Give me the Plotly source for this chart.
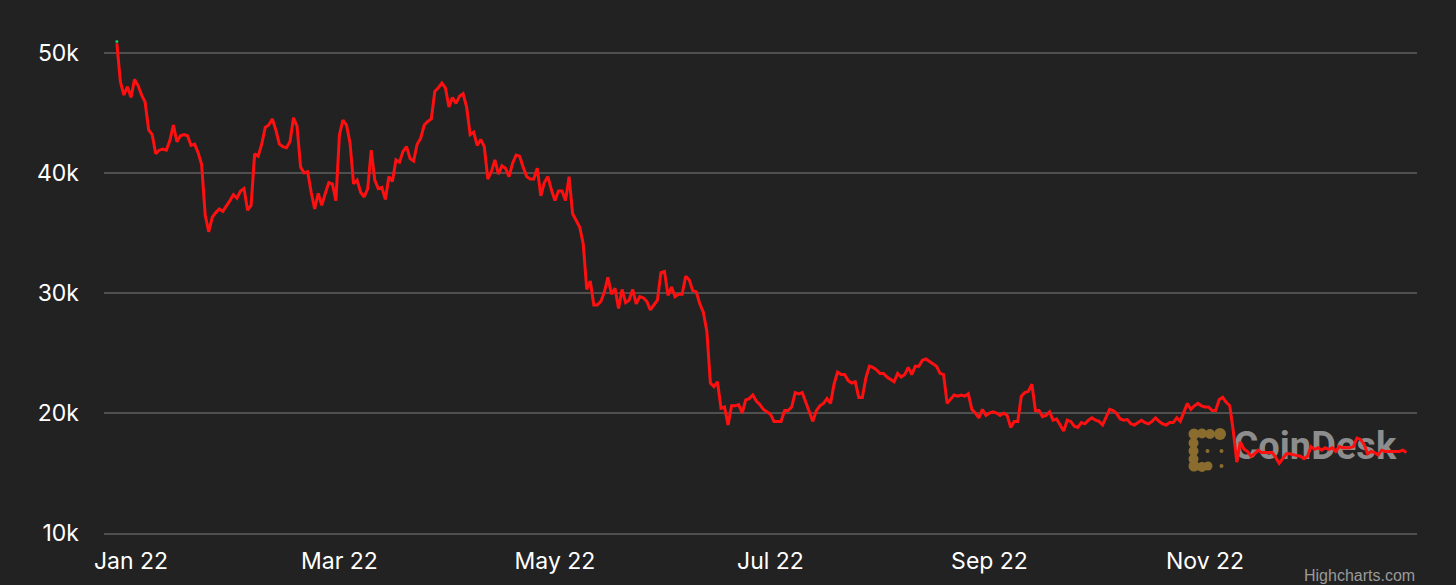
import pandas as pd
import plotly.graph_objects as go

# ---- data: BTC/USD daily price (thousands of USD) ----
start_date = "2021-12-28"
dec_2021 = [50.8, 47.6, 46.5, 47.2]
jan_2022 = [46.3, 47.8, 47.3, 46.5, 45.9, 43.6, 43.2, 41.6, 41.9, 42.0,
            41.9, 42.7, 44.0, 42.6, 43.1, 43.2, 43.1, 42.3, 42.4, 41.7,
            40.7, 36.5, 35.1, 36.3, 36.7, 37.0, 36.8, 37.2, 37.7, 38.2, 37.9]
feb_2022 = [38.5, 38.7, 36.9, 37.3, 41.6, 41.4, 42.4, 43.8, 44.0, 44.5,
            43.6, 42.4, 42.2, 42.1, 42.6, 44.6, 43.9, 40.5, 40.0, 40.1,
            38.4, 37.0, 38.3, 37.3, 38.3, 39.2, 39.1, 37.7]
mar_2022 = [43.2, 44.4, 44.0, 42.5, 39.1, 39.4, 38.4, 38.0, 38.7, 41.9,
            39.4, 38.7, 38.8, 37.8, 39.7, 39.3, 41.1, 40.9, 41.8, 42.2,
            41.2, 41.0, 42.4, 42.9, 44.0, 44.3, 44.5, 46.8, 47.1, 47.5, 47.1]
apr_2022 = [45.5, 46.3, 45.8, 46.4, 46.6, 45.5, 43.2, 43.4, 42.3, 42.8,
            42.2, 39.5, 40.1, 41.1, 39.9, 40.6, 40.4, 39.7, 40.8, 41.5,
            41.4, 40.5, 39.7, 39.5, 39.5, 40.4, 38.1, 39.2, 39.7, 38.6]
may_2022 = [37.7, 38.5, 38.5, 37.7, 39.7, 36.6, 36.0, 35.5, 34.1, 30.3,
            31.0, 29.0, 29.0, 29.3, 30.1, 31.3, 29.9, 30.4, 28.7, 30.3,
            29.2, 29.4, 30.3, 29.1, 29.7, 29.6, 29.3, 28.6, 29.0, 29.4, 31.7]
jun_2022 = [31.8, 29.8, 30.5, 29.7, 29.9, 29.9, 31.4, 31.1, 30.2, 30.1,
            29.1, 28.4, 26.8, 22.5, 22.2, 22.6, 20.4, 20.5, 19.0, 20.6,
            20.6, 20.7, 20.0, 21.1, 21.2, 21.5, 21.0, 20.7, 20.3, 20.1]
jul_2022 = [19.9, 19.3, 19.3, 19.3, 20.2, 20.2, 20.5, 21.7, 21.6, 21.7,
            20.9, 20.0, 19.3, 20.2, 20.6, 20.8, 21.2, 20.8, 22.4, 23.4,
            23.2, 23.2, 22.7, 22.5, 22.6, 21.3, 21.3, 22.9, 23.9, 23.8, 23.6]
aug_2022 = [23.3, 23.3, 23.0, 22.8, 22.6, 23.3, 23.0, 23.2, 23.8, 23.2,
            23.9, 23.9, 24.4, 24.5, 24.3, 24.1, 23.9, 23.3, 23.2, 20.8,
            21.2, 21.5, 21.4, 21.5, 21.4, 21.6, 20.3, 20.0, 19.6, 20.3, 19.8]
sep_2022 = [20.0, 20.1, 20.0, 19.8, 20.0, 19.8, 18.8, 19.3, 19.3, 21.4,
            21.7, 21.8, 22.4, 20.2, 20.2, 19.7, 19.8, 20.1, 19.4, 19.5,
            19.0, 18.5, 19.4, 19.3, 18.9, 18.8, 19.2, 19.1, 19.4, 19.6]
oct_2022 = [19.4, 19.3, 19.0, 19.6, 20.3, 20.2, 19.95, 19.5, 19.4, 19.45,
            19.1, 19.0, 19.2, 19.4, 19.2, 19.1, 19.3, 19.6, 19.3, 19.1,
            19.0, 19.2, 19.2, 19.6, 19.3, 20.1, 20.8, 20.3, 20.6, 20.8, 20.6]
nov_2022 = [20.5, 20.5, 20.2, 20.2, 21.1, 21.3, 20.9, 20.6, 18.5, 15.9,
            17.6, 17.0, 16.8, 16.4, 16.6, 16.9, 16.7, 16.7, 16.7, 16.7,
            16.3, 15.8, 16.2, 16.6, 16.6, 16.5, 16.45, 16.4, 16.2, 16.4]
dec_2022 = [17.2, 16.97, 17.1, 16.9, 17.1, 16.97, 17.1, 16.8, 17.2, 17.1,
            17.1, 17.1, 17.2, 17.9, 17.8, 17.4, 16.6, 16.8, 16.7, 16.5,
            16.9, 16.8, 16.8, 16.8, 16.8, 16.8, 16.9, 16.7]

y_ticks = [10000, 20000, 30000, 40000, 50000]
y_tick_labels = ["10k", "20k", "30k", "40k", "50k"]
x_ticks = ["2022-01-01", "2022-03-01", "2022-05-01", "2022-07-01", "2022-09-01", "2022-11-01"]
x_tick_labels = ["Jan 22", "Mar 22", "May 22", "Jul 22", "Sep 22", "Nov 22"]

months = [dec_2021, jan_2022, feb_2022, mar_2022, apr_2022, may_2022, jun_2022,
          jul_2022, aug_2022, sep_2022, oct_2022, nov_2022, dec_2022]
price_k = [v for m in months for v in m]
price = [v * 1000 for v in price_k]
dates = pd.date_range(start_date, periods=len(price), freq="D")

# ---- styling ----
BG = "#222222"
GRID = "#4f4f4f"
FONT = "Inter, 'DejaVu Sans', sans-serif"

# plot area in pixels
W, H = 1456, 585
L, R, T, B = 104, 39, 35, 52
PW, PH = W - L - R, H - T - B


def px(x):
    return (x - L) / PW


def py(y):
    return (H - B - y) / PH


fig = go.Figure()

# watermark text (drawn under the price line)
fig.add_trace(go.Scatter(
    x=[pd.Timestamp("2022-12-02 02:00")], y=[17000],
    mode="text", text=["CoinDesk"],
    textfont=dict(family="Roboto, sans-serif", size=38, color="#8d8d8d", weight="bold"),
    textposition="middle center", hoverinfo="skip", showlegend=False,
))

fig.add_trace(go.Scatter(
    x=[dates[0]], y=[price[0] + 150], mode="markers",
    marker=dict(color="#22c55e", size=3), hoverinfo="skip", showlegend=False,
))

fig.add_trace(go.Scatter(
    x=dates, y=price, mode="lines",
    line=dict(color="#ff1010", width=3),
    name="BTC", showlegend=False,
))

# CoinDesk logo made of circles (decoration)
GOLD = "#8a6d2e"
logo_circles = [
    (1194, 434, 5.5), (1202, 433.5, 5), (1210, 434, 5), (1220, 434, 6),
    (1193.5, 443, 5), (1193.5, 451, 5), (1193.5, 459, 5), (1194, 466, 5.5),
    (1202, 467, 5), (1208, 466, 4.5),
    (1207.5, 451, 2.0), (1221.5, 451, 2.0), (1221.5, 466, 2.0),
]
shapes = []
for cx, cy, r in logo_circles:
    shapes.append(dict(
        type="circle", xref="paper", yref="paper",
        x0=px(cx - r), x1=px(cx + r), y0=py(cy + r), y1=py(cy - r),
        fillcolor=GOLD, line=dict(width=0), layer="below",
    ))

fig.update_layout(
    width=W, height=H,
    margin=dict(l=L, r=R, t=T, b=B, autoexpand=False),
    paper_bgcolor=BG, plot_bgcolor=BG,
    font=dict(family=FONT, color="#ffffff", size=23),
    shapes=shapes,
    showlegend=False,
    hovermode="x",
    annotations=[dict(
        text="Highcharts.com", xref="paper", yref="paper",
        x=1.0, y=py(565), xanchor="right", yanchor="top",
        showarrow=False,
        font=dict(family="Liberation Sans, Arial, sans-serif", size=16, color="#9a9a9a"),
    )],
)

fig.update_xaxes(
    type="date", automargin=False,
    range=["2021-12-24 08:38", "2022-12-31 00:00"],
    tickvals=x_ticks, ticktext=x_tick_labels,
    showgrid=False, zeroline=False,
    showline=True, linecolor=GRID, linewidth=1.5,
    ticks="", ticklabelstandoff=7,
    tickfont=dict(family=FONT, size=23, color="#ffffff"),
)
fig.update_yaxes(
    automargin=False,
    range=[10000, 51500],
    tickvals=y_ticks, ticktext=y_tick_labels,
    showgrid=True, gridcolor=GRID, gridwidth=1.5,
    zeroline=False, showline=False,
    ticks="", ticklabelstandoff=24,
    tickfont=dict(family=FONT, size=23, color="#ffffff"),
)

fig.write_html(
    "out.html",
    config={"displayModeBar": False},
    post_script="document.body.style.margin='0';document.body.style.overflow='hidden';",
)
